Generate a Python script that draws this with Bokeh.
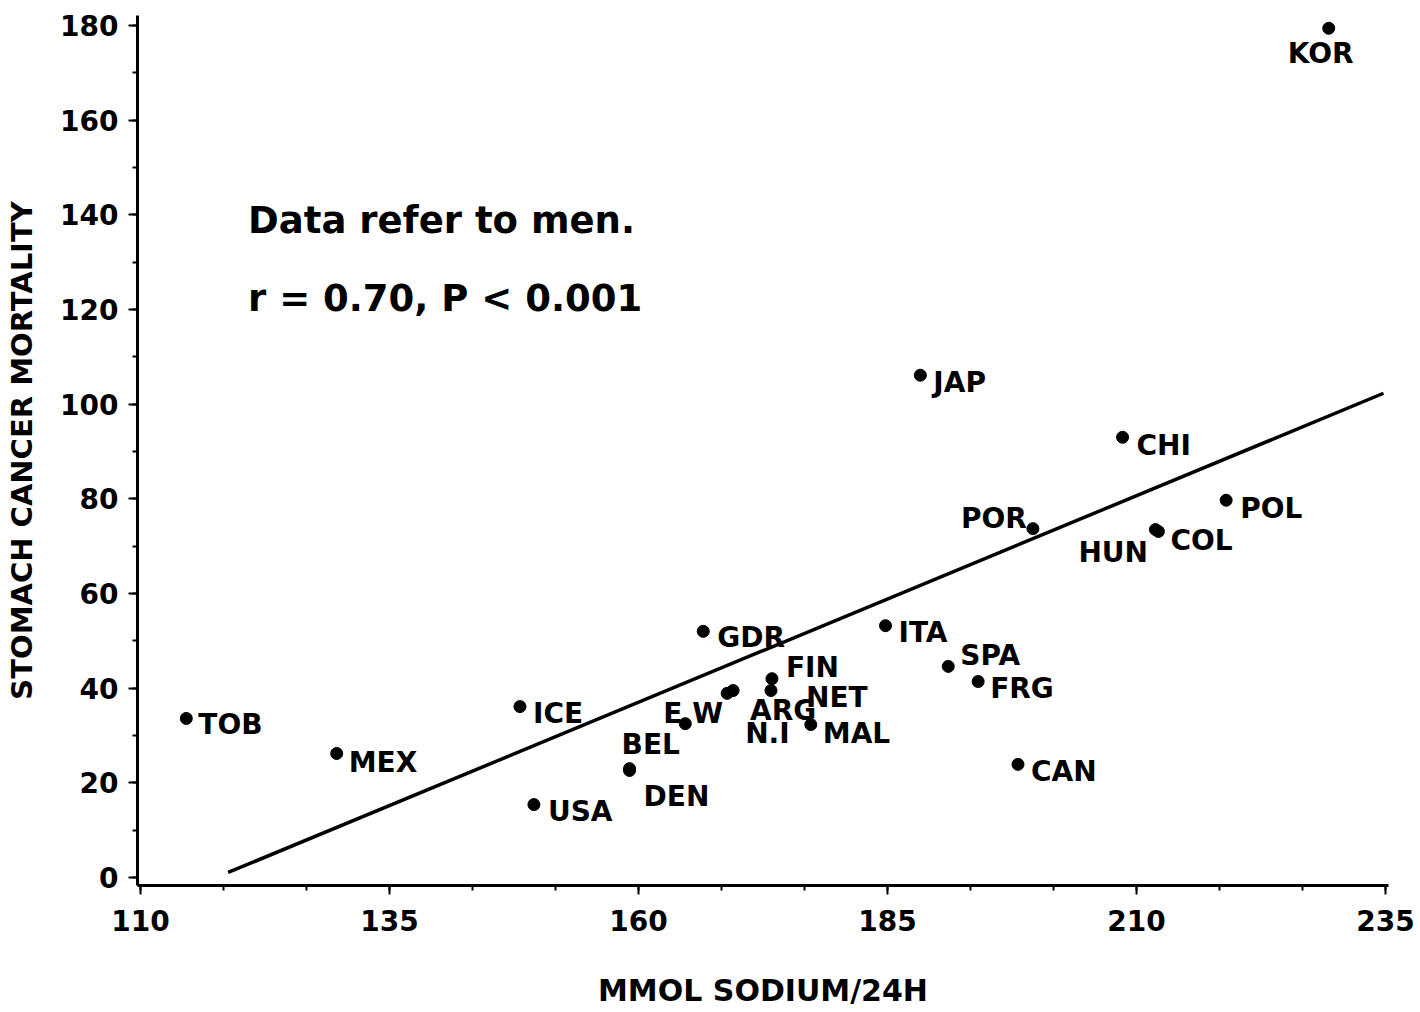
from bokeh.plotting import figure
from bokeh.models import Range1d, ColumnDataSource, FixedTicker, Label
from bokeh.core.properties import value
from bokeh.embed import file_html
from bokeh.resources import INLINE

# ---- data ----
countries = ["KOR", "TOB", "MEX", "ICE", "USA", "BEL", "DEN", "E W", "GDR", "N.I",
             "ARG", "FIN", "NET", "MAL", "ITA", "JAP", "SPA", "FRG", "CAN", "POR",
             "CHI", "HUN", "COL", "POL"]
sodium = [229.3, 114.6, 129.7, 148.1, 149.5, 159.1, 159.1, 164.7, 166.5, 168.9,
          169.5, 173.4, 173.3, 177.3, 184.8, 188.3, 191.1, 194.1, 198.1, 199.6,
          208.6, 211.9, 212.2, 219.0]
mortality = [179.4, 33.6, 26.2, 36.1, 15.4, 23.0, 22.6, 32.5, 52.0, 38.9,
             39.5, 42.0, 39.5, 32.3, 53.2, 106.1, 44.6, 41.4, 23.9, 73.7,
             93.0, 73.5, 73.1, 79.7]
fit_x = [118.8, 234.8]
fit_y = [1.06, 102.3]
x_ticks = [110, 135, 160, 185, 210, 235]
y_ticks = [0, 20, 40, 60, 80, 100, 120, 140, 160, 180]
x_title = "MMOL SODIUM/24H"
y_title = "STOMACH CANCER MORTALITY"

# label placement (screen pixels relative to each dot)
label_dx = [-41, 12, 12, 13, 14, -8, 14, -22, 14, 18,
            17, 14, 35, 12, 13, 13, 12, 12, 13, -72,
            14, -77, 12, 14]
label_dy = [25, 6, 9, 7, 7, -24, 26, -10, 6, 40,
            20, -11, 7, 9, 7, 7, -11, 7, 7, -10,
            8, 23, 9, 8]

FONT = "DejaVu Sans"

p = figure(width=1420, height=1012, output_backend="svg", toolbar_location=None,
           x_range=Range1d(109.7, 235.3), y_range=Range1d(-1.69, 182.1),
           min_border_left=137, min_border_right=32, min_border_top=15,
           min_border_bottom=127)
p.outline_line_color = None
p.xgrid.visible = False
p.ygrid.visible = False
p.background_fill_color = "white"
p.border_fill_color = "white"

for ax in (p.xaxis[0], p.yaxis[0]):
    ax.axis_line_width = 3
    ax.axis_line_color = "black"
    ax.major_tick_line_width = 2
    ax.minor_tick_line_width = 2
    ax.major_tick_in = 0
    ax.major_tick_out = 9
    ax.minor_tick_in = 0
    ax.minor_tick_out = 5
    ax.major_label_text_font = FONT
    ax.major_label_text_font_style = "bold"
    ax.major_label_text_font_size = "28px"
    ax.major_label_text_color = "black"
    ax.axis_label_text_font = FONT
    ax.axis_label_text_font_style = "bold"
    ax.axis_label_text_color = "black"

p.xaxis.ticker = FixedTicker(ticks=x_ticks,
                             minor_ticks=[110 + i * 25 / 3 for i in range(16)])
p.yaxis.ticker = FixedTicker(ticks=y_ticks, minor_ticks=list(range(0, 181, 10)))
p.xaxis.major_label_standoff = 15
p.yaxis.major_label_standoff = 10
p.xaxis.axis_label = x_title
p.xaxis.axis_label_text_font_size = "30px"
p.xaxis.axis_label_standoff = 39
p.yaxis.axis_label = y_title
p.yaxis.axis_label_text_font_size = "29px"
p.yaxis.axis_label_standoff = 18

# regression line
p.line(fit_x, fit_y, line_color="black", line_width=3.5)

src = ColumnDataSource(dict(x=sodium, y=mortality, name=countries,
                            dx=label_dx, dy=label_dy))
p.scatter("x", "y", source=src, size=12, color="black")
p.text("x", "y", text="name", source=src, x_offset="dx", y_offset="dy",
       text_font=value(FONT), text_font_style="bold", text_font_size="28px",
       text_color="black", text_align="left", text_baseline="middle")

p.add_layout(Label(x=120.8, y=138.8, text="Data refer to men.",
                   text_font=FONT, text_font_style="bold",
                   text_font_size="37px", text_color="black",
                   text_baseline="alphabetic"))
p.add_layout(Label(x=120.8, y=122.3, text="r = 0.70, P < 0.001",
                   text_font=FONT, text_font_style="bold",
                   text_font_size="37px", text_color="black",
                   text_baseline="alphabetic"))

open("out.html", "w").write(file_html(p, INLINE))
